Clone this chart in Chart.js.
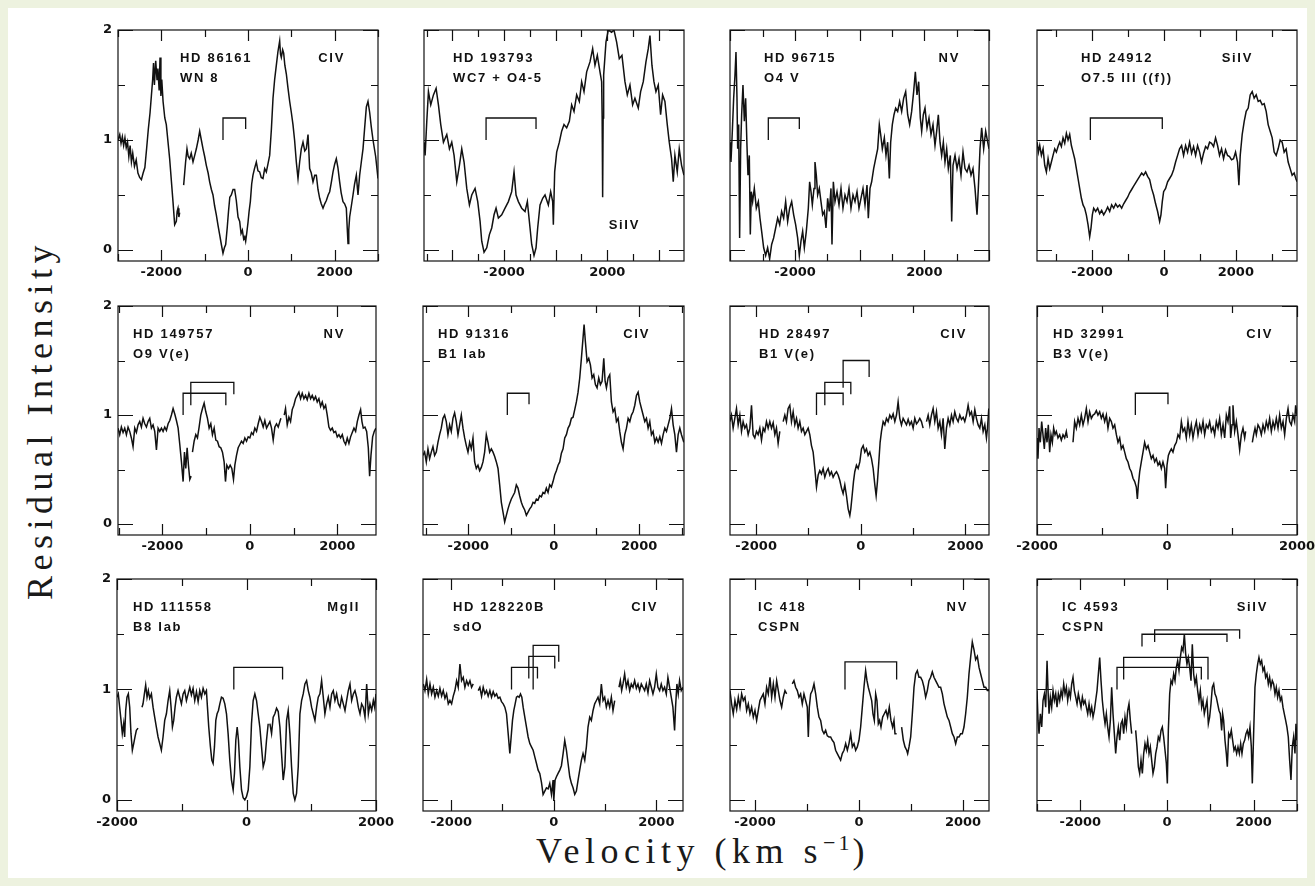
<!DOCTYPE html>
<html>
<head>
<meta charset="utf-8">
<script src="https://cdn.jsdelivr.net/npm/chart.js@4.4.1/dist/chart.umd.min.js"></script>
<style>
  html, body { margin: 0; padding: 0; }
  body { width: 1315px; height: 886px; background: #edf2df; position: relative; overflow: hidden; }
  #sheet { position: absolute; left: 8px; top: 8px; width: 1299px; height: 870px; background: #fff; }
  canvas { position: absolute; }
  #ytitle {
    position: absolute; left: 40px; top: 420px; white-space: nowrap;
    transform: translate(-50%, -50%) rotate(-90deg);
    font: 36px "Liberation Serif", serif; letter-spacing: 5.5px; color: #1a1a1a;
  }
  #xtitle {
    position: absolute; left: 703px; top: 851px; white-space: nowrap;
    transform: translate(-50%, -50%);
    font: 36px "Liberation Serif", serif; letter-spacing: 5.5px; color: #1a1a1a;
  }
  #xtitle sup { font-size: 22px; letter-spacing: 3px; }
</style>
</head>
<body>
<div id="sheet"></div>
<div id="ytitle">Residual Intensity</div>
<div id="xtitle">Velocity (km s<sup>−1</sup>)</div>
<script>
// spectra: [velocity km/s, residual intensity]; null breaks the line
const hd86161 = [[-3000,1.00],[-2960,1.05],[-2930,0.97],[-2900,1.03],[-2870,0.95],[-2840,1.02],[-2810,0.93],[-2780,0.98],[-2750,0.85],[-2720,0.95],[-2690,0.80],[-2660,0.88],[-2620,0.76],[-2580,0.82],[-2540,0.70],[-2500,0.66],[-2460,0.64],[-2420,0.70],[-2380,0.75],[-2340,0.92],[-2300,1.10],[-2260,1.25],[-2230,1.40],[-2200,1.55],[-2180,1.70],[-2160,1.50],[-2130,1.72],[-2100,1.55],[-2080,1.65],[-2050,1.45],[-2030,1.75],[-2010,1.40],[-1990,1.55],[-1960,1.35],[-1920,1.20],[-1885,1.14],[-1808,0.83],[-1731,0.44],[-1692,0.23],[-1654,0.26],[-1635,0.35],[-1615,0.38],[-1595,0.30],[-1577,0.34],[-1560,null],[-1485,0.59],[-1440,0.80],[-1408,0.92],[-1380,0.85],[-1346,0.83],[-1310,0.88],[-1269,0.80],[-1230,0.86],[-1192,0.92],[-1150,1.00],[-1115,1.08],[-1077,1.00],[-1038,0.92],[-1000,0.85],[-962,0.77],[-920,0.70],[-885,0.62],[-845,0.55],[-808,0.50],[-770,0.40],[-731,0.32],[-690,0.22],[-654,0.14],[-615,0.05],[-577,-0.03],[-545,0.02],[-515,0.05],[-480,0.20],[-450,0.35],[-420,0.48],[-385,0.50],[-345,0.55],[-308,0.55],[-270,0.45],[-230,0.30],[-192,0.26],[-160,0.15],[-130,0.18],[-100,0.10],[-75,0.12],[-54,0.08],[-30,0.15],[0,0.25],[25,0.35],[54,0.44],[85,0.60],[115,0.68],[150,0.74],[192,0.80],[230,0.72],[269,0.71],[305,0.66],[346,0.65],[385,0.74],[423,0.71],[460,0.78],[500,0.86],[540,1.10],[577,1.38],[615,1.55],[654,1.68],[690,1.80],[731,1.90],[750,1.78],[769,1.75],[800,1.82],[823,1.79],[850,1.68],[885,1.60],[920,1.48],[962,1.35],[1000,1.25],[1038,1.14],[1075,1.00],[1115,0.80],[1154,0.65],[1192,0.80],[1230,0.92],[1269,0.98],[1310,0.90],[1346,0.92],[1385,1.05],[1423,0.74],[1460,0.70],[1500,0.62],[1540,0.68],[1577,0.68],[1615,0.55],[1654,0.47],[1690,0.42],[1731,0.38],[1770,0.42],[1808,0.45],[1850,0.50],[1885,0.53],[1925,0.62],[1962,0.71],[2000,0.78],[2038,0.83],[2075,0.75],[2115,0.62],[2150,0.52],[2192,0.44],[2230,0.42],[2269,0.38],[2290,0.20],[2308,0.06],[2325,0.18],[2346,0.30],[2385,0.40],[2423,0.50],[2460,0.60],[2500,0.68],[2538,0.50],[2577,0.68],[2615,0.80],[2654,0.92],[2690,1.10],[2731,1.30],[2769,1.35],[2808,1.25],[2845,1.12],[2885,1.00],[2946,0.85],[3000,0.65]];

const hd193793 = [[-5096,0.98],[-5057,0.86],[-4992,1.17],[-4928,1.44],[-4838,1.32],[-4734,1.41],[-4631,1.47],[-4541,1.32],[-4451,1.14],[-4347,0.98],[-4218,1.05],[-4115,0.92],[-4025,0.98],[-3935,0.86],[-3831,0.62],[-3728,0.77],[-3638,0.92],[-3548,0.80],[-3444,0.56],[-3341,0.41],[-3251,0.50],[-3122,0.56],[-3019,0.44],[-2928,0.26],[-2864,0.08],[-2774,-0.02],[-2670,0.02],[-2567,0.14],[-2477,0.20],[-2387,0.32],[-2309,0.38],[-2219,0.29],[-2090,0.32],[-1961,0.38],[-1832,0.44],[-1703,0.53],[-1613,0.71],[-1535,0.50],[-1445,0.44],[-1316,0.38],[-1187,0.35],[-1097,0.44],[-993,0.20],[-929,0.05],[-839,-0.05],[-761,0.02],[-697,0.20],[-606,0.41],[-503,0.47],[-413,0.50],[-284,0.41],[-194,0.53],[-116,0.44],[-90,0.23],[-39,0.71],[39,0.89],[142,0.98],[232,1.08],[323,1.14],[426,1.11],[529,1.17],[619,1.32],[710,1.26],[813,1.41],[916,1.35],[1006,1.53],[1097,1.44],[1200,1.62],[1329,1.71],[1432,1.83],[1522,1.68],[1613,1.77],[1716,1.62],[1780,1.53],[1800,1.20],[1819,0.48],[1838,1.20],[1858,1.59],[1948,1.89],[2038,2.00],[2167,1.98],[2258,2.00],[2361,1.89],[2464,1.74],[2567,1.77],[2683,1.53],[2774,1.41],[2877,1.50],[2980,1.32],[3070,1.38],[3199,1.29],[3290,1.44],[3393,1.53],[3496,1.71],[3586,1.83],[3651,1.95],[3728,1.68],[3806,1.53],[3883,1.44],[3973,1.50],[4064,1.23],[4141,1.41],[4231,1.35],[4322,1.14],[4399,0.98],[4489,0.83],[4554,0.62],[4618,0.86],[4709,0.71],[4786,0.92],[4876,0.77],[4967,0.68]];

const hd96715 = [[-4010,0.98],[-3980,0.80],[-3938,1.08],[-3897,1.38],[-3856,1.59],[-3825,1.80],[-3794,1.38],[-3773,0.92],[-3742,1.14],[-3712,0.11],[-3681,0.92],[-3650,1.23],[-3609,1.50],[-3567,1.17],[-3526,1.38],[-3485,0.95],[-3454,0.68],[-3413,0.86],[-3382,0.14],[-3351,0.53],[-3310,0.44],[-3258,0.56],[-3196,0.38],[-3134,0.44],[-3083,0.29],[-3031,0.17],[-2969,0.02],[-2907,-0.05],[-2846,0.02],[-2784,-0.08],[-2722,0.05],[-2660,0.11],[-2598,0.20],[-2536,0.29],[-2474,0.23],[-2413,0.35],[-2351,0.29],[-2289,0.44],[-2227,0.26],[-2165,0.38],[-2103,0.44],[-2041,0.32],[-1980,0.23],[-1918,0.11],[-1866,-0.05],[-1815,0.08],[-1763,0.17],[-1711,0.02],[-1650,0.17],[-1588,0.38],[-1547,0.62],[-1505,0.53],[-1464,0.41],[-1412,0.56],[-1382,0.80],[-1340,0.68],[-1299,0.50],[-1248,0.56],[-1196,0.44],[-1144,0.32],[-1093,0.35],[-1041,0.20],[-990,0.47],[-938,0.35],[-887,0.56],[-856,0.05],[-814,0.62],[-763,0.44],[-701,0.53],[-639,0.41],[-577,0.56],[-516,0.38],[-454,0.50],[-392,0.44],[-330,0.56],[-268,0.38],[-206,0.50],[-144,0.44],[-82,0.53],[-21,0.38],[41,0.47],[103,0.56],[165,0.41],[227,0.59],[268,0.29],[320,0.56],[371,0.62],[433,0.74],[495,0.83],[557,0.92],[608,1.14],[650,1.05],[701,0.92],[763,1.02],[814,0.86],[866,0.98],[918,0.65],[959,0.98],[1010,1.14],[1062,1.23],[1113,1.29],[1175,1.26],[1237,1.35],[1299,1.26],[1361,1.38],[1423,1.44],[1485,1.23],[1546,1.14],[1608,1.26],[1670,1.44],[1722,1.62],[1773,1.41],[1825,1.53],[1876,1.20],[1918,1.08],[1969,1.23],[2021,1.29],[2083,1.11],[2144,1.20],[2206,1.05],[2268,1.14],[2330,0.95],[2382,1.08],[2433,1.23],[2485,0.98],[2536,0.86],[2588,0.98],[2639,0.80],[2691,0.92],[2742,0.74],[2804,0.86],[2846,0.26],[2887,0.77],[2949,0.86],[3011,0.74],[3072,0.83],[3134,0.68],[3196,0.89],[3258,0.74],[3320,0.71],[3382,0.77],[3444,0.68],[3505,0.74],[3567,0.56],[3629,0.32],[3670,0.56],[3722,0.92],[3773,1.11],[3835,0.92],[3897,1.08],[3959,0.98],[4000,0.92]];

const hd24912 = [[-3528,0.98],[-3491,0.89],[-3454,0.95],[-3408,0.86],[-3361,0.92],[-3315,0.77],[-3269,0.71],[-3222,0.83],[-3176,0.74],[-3130,0.80],[-3084,0.86],[-3037,0.92],[-2991,0.89],[-2945,0.94],[-2898,0.98],[-2852,0.94],[-2806,1.02],[-2759,0.97],[-2713,1.06],[-2667,1.00],[-2621,1.05],[-2574,0.95],[-2528,0.89],[-2482,0.83],[-2435,0.74],[-2389,0.65],[-2343,0.56],[-2296,0.47],[-2250,0.41],[-2204,0.38],[-2158,0.32],[-2111,0.23],[-2065,0.12],[-2028,0.20],[-1991,0.32],[-1954,0.38],[-1898,0.35],[-1843,0.38],[-1787,0.33],[-1732,0.36],[-1676,0.32],[-1621,0.35],[-1565,0.39],[-1509,0.35],[-1454,0.41],[-1398,0.38],[-1343,0.42],[-1287,0.39],[-1232,0.41],[-1176,0.38],[-1120,0.42],[-1065,0.45],[-1009,0.48],[-954,0.52],[-898,0.55],[-843,0.58],[-787,0.61],[-732,0.64],[-676,0.67],[-620,0.70],[-565,0.68],[-509,0.71],[-454,0.67],[-398,0.64],[-343,0.56],[-287,0.50],[-232,0.42],[-176,0.35],[-120,0.26],[-83,0.32],[-46,0.44],[-9,0.53],[46,0.56],[102,0.62],[157,0.65],[213,0.68],[269,0.73],[324,0.80],[380,0.86],[435,0.92],[491,0.95],[546,0.86],[602,0.95],[657,0.89],[713,0.98],[769,0.88],[824,0.94],[880,0.86],[935,0.95],[991,0.89],[1046,0.80],[1102,0.88],[1158,0.94],[1213,0.92],[1269,0.98],[1324,0.97],[1380,0.94],[1435,1.02],[1491,0.95],[1546,0.86],[1602,0.92],[1658,0.83],[1713,0.91],[1769,0.86],[1824,0.85],[1880,0.82],[1935,0.83],[1991,0.89],[2046,0.80],[2084,0.59],[2121,0.86],[2176,1.05],[2232,1.17],[2287,1.26],[2343,1.29],[2398,1.41],[2454,1.44],[2509,1.38],[2565,1.41],[2621,1.35],[2676,1.36],[2732,1.32],[2787,1.33],[2843,1.26],[2898,1.14],[2954,1.08],[3010,1.02],[3065,0.89],[3121,0.86],[3176,0.92],[3232,1.00],[3287,0.98],[3343,0.89],[3398,0.92],[3454,0.80],[3510,0.74],[3565,0.68],[3621,0.70],[3676,0.64],[3704,0.62]];

const hd149757 = [[-3014,0.88],[-2976,0.82],[-2938,0.89],[-2899,0.84],[-2861,0.88],[-2823,0.82],[-2785,0.89],[-2747,0.85],[-2709,0.79],[-2671,0.71],[-2632,0.88],[-2594,0.84],[-2556,0.91],[-2518,0.94],[-2480,0.89],[-2442,0.97],[-2403,0.92],[-2365,0.89],[-2327,0.94],[-2289,0.97],[-2251,0.88],[-2213,0.91],[-2175,0.85],[-2136,0.68],[-2098,0.88],[-2060,0.85],[-2022,0.88],[-1984,0.85],[-1946,0.89],[-1908,0.86],[-1869,0.92],[-1831,0.95],[-1793,1.00],[-1755,1.06],[-1717,1.01],[-1679,0.95],[-1640,0.88],[-1602,0.73],[-1564,0.57],[-1526,0.39],[-1495,0.66],[-1465,0.51],[-1434,0.70],[-1404,0.54],[-1373,0.41],[-1343,0.44],[-1330,null],[-1312,0.66],[-1274,0.76],[-1236,0.82],[-1198,0.79],[-1160,0.89],[-1122,1.00],[-1083,1.06],[-1045,1.11],[-1007,1.03],[-969,0.97],[-931,0.88],[-893,0.92],[-855,0.82],[-816,0.88],[-778,0.77],[-740,0.76],[-702,0.71],[-664,0.70],[-626,0.66],[-588,0.57],[-557,0.39],[-526,0.54],[-488,0.51],[-450,0.54],[-412,0.51],[-374,0.41],[-343,0.54],[-305,0.63],[-267,0.70],[-229,0.73],[-191,0.76],[-153,0.74],[-114,0.79],[-76,0.76],[-38,0.80],[0,0.79],[38,0.84],[76,0.82],[114,0.88],[153,0.85],[191,0.92],[229,0.98],[267,0.94],[305,0.89],[343,0.95],[382,0.88],[420,0.91],[458,0.94],[496,0.88],[534,0.77],[572,0.89],[610,0.92],[649,0.89],[687,0.94],[710,0.97],[740,null],[786,1.00],[816,1.06],[855,0.91],[893,0.98],[931,0.94],[969,1.05],[1007,1.09],[1045,1.15],[1083,1.18],[1122,1.21],[1160,1.15],[1198,1.20],[1236,1.15],[1274,1.18],[1312,1.14],[1351,1.20],[1389,1.15],[1427,1.18],[1465,1.14],[1503,1.17],[1541,1.12],[1579,1.15],[1618,1.08],[1656,1.12],[1694,1.06],[1732,1.09],[1770,1.00],[1808,0.89],[1846,0.86],[1885,0.88],[1923,0.84],[1961,0.85],[1999,0.80],[2037,0.82],[2075,0.79],[2114,0.82],[2152,0.76],[2190,0.73],[2228,0.79],[2266,0.74],[2304,0.80],[2342,0.84],[2381,0.88],[2419,0.85],[2457,0.94],[2495,1.00],[2533,1.05],[2564,0.94],[2594,0.88],[2632,0.89],[2671,0.85],[2709,0.70],[2739,0.44],[2770,0.63],[2808,0.80],[2846,0.85],[2884,0.88]];

const hd91316 = [[-3062,0.63],[-3022,0.66],[-2983,0.57],[-2944,0.69],[-2905,0.60],[-2866,0.66],[-2827,0.71],[-2788,0.63],[-2749,0.66],[-2710,0.75],[-2671,0.82],[-2632,0.88],[-2593,0.97],[-2554,1.00],[-2515,0.94],[-2476,0.82],[-2437,0.91],[-2398,0.85],[-2359,0.97],[-2320,1.02],[-2281,0.94],[-2241,0.82],[-2202,0.91],[-2163,1.00],[-2124,0.88],[-2085,0.79],[-2046,0.72],[-2007,0.66],[-1968,0.75],[-1929,0.69],[-1890,0.79],[-1851,0.57],[-1812,0.51],[-1773,0.54],[-1734,0.49],[-1695,0.52],[-1656,0.57],[-1617,0.66],[-1578,0.82],[-1539,0.75],[-1500,0.66],[-1460,0.69],[-1421,0.66],[-1382,0.62],[-1343,0.57],[-1304,0.51],[-1265,0.36],[-1226,0.20],[-1187,0.11],[-1148,0.02],[-1109,0.08],[-1070,0.14],[-1031,0.19],[-992,0.23],[-953,0.26],[-914,0.29],[-875,0.36],[-836,0.33],[-797,0.26],[-758,0.20],[-719,0.16],[-679,0.13],[-640,0.08],[-601,0.11],[-562,0.14],[-523,0.16],[-484,0.20],[-445,0.19],[-406,0.23],[-367,0.22],[-328,0.26],[-289,0.25],[-250,0.29],[-211,0.28],[-172,0.33],[-133,0.29],[-94,0.36],[-55,0.34],[-16,0.39],[23,0.45],[62,0.49],[102,0.54],[141,0.57],[180,0.65],[219,0.69],[258,0.79],[297,0.82],[336,0.88],[375,0.91],[414,0.97],[453,0.98],[492,1.05],[531,1.12],[570,1.21],[609,1.34],[648,1.52],[687,1.71],[711,1.83],[742,1.67],[781,1.49],[820,1.52],[859,1.46],[898,1.34],[937,1.37],[976,1.28],[1015,1.25],[1054,1.34],[1093,1.28],[1132,1.31],[1172,1.52],[1203,1.31],[1234,1.25],[1273,1.34],[1312,1.37],[1351,1.12],[1390,1.03],[1429,1.06],[1468,0.94],[1507,0.97],[1546,0.85],[1585,0.75],[1624,0.69],[1664,0.82],[1703,0.88],[1742,0.97],[1781,0.94],[1820,1.00],[1859,1.03],[1898,1.09],[1937,1.18],[1976,1.21],[2015,1.12],[2054,1.06],[2093,1.00],[2132,0.94],[2171,0.97],[2210,0.88],[2249,0.94],[2288,0.82],[2327,0.85],[2367,0.75],[2406,0.79],[2445,0.75],[2484,0.80],[2523,0.74],[2562,0.82],[2601,0.88],[2640,0.85],[2679,0.91],[2718,0.97],[2757,1.06],[2796,0.91],[2835,0.82],[2874,0.66],[2913,0.82],[2952,0.88],[2991,0.82],[3046,0.75]];

const hd28497 = [[-2503,0.94],[-2472,1.00],[-2440,0.88],[-2408,0.97],[-2376,1.06],[-2344,0.91],[-2312,1.00],[-2280,0.85],[-2249,0.94],[-2217,0.88],[-2185,0.91],[-2153,0.82],[-2121,0.88],[-2089,1.09],[-2058,0.82],[-2026,0.79],[-1994,0.85],[-1962,0.82],[-1930,0.88],[-1898,0.77],[-1866,0.88],[-1835,0.85],[-1803,0.94],[-1771,0.88],[-1739,0.94],[-1707,0.88],[-1675,0.93],[-1643,0.82],[-1612,0.88],[-1580,0.74],[-1548,0.85],[-1520,null],[-1484,0.94],[-1452,1.00],[-1421,0.94],[-1389,1.06],[-1357,1.09],[-1325,0.94],[-1293,1.03],[-1261,0.91],[-1229,0.97],[-1198,0.88],[-1166,0.94],[-1134,0.85],[-1102,0.88],[-1070,0.82],[-1038,0.85],[-1006,0.88],[-975,0.82],[-943,0.72],[-911,0.66],[-879,0.51],[-847,0.34],[-815,0.45],[-784,0.49],[-752,0.46],[-720,0.51],[-688,0.43],[-656,0.48],[-624,0.51],[-592,0.45],[-561,0.48],[-529,0.43],[-497,0.46],[-465,0.48],[-433,0.45],[-401,0.40],[-369,0.33],[-338,0.28],[-306,0.36],[-274,0.26],[-242,0.14],[-210,0.08],[-191,0.14],[-166,0.26],[-140,0.39],[-115,0.48],[-83,0.54],[-51,0.51],[-19,0.57],[13,0.69],[45,0.72],[76,0.66],[108,0.69],[140,0.63],[172,0.66],[204,0.60],[236,0.51],[268,0.36],[293,0.26],[318,0.39],[344,0.57],[369,0.75],[395,0.85],[427,0.94],[459,0.91],[490,0.97],[522,0.94],[554,1.00],[586,0.97],[618,1.01],[650,0.94],[682,1.00],[713,1.12],[745,0.97],[777,0.91],[809,0.97],[841,0.94],[873,0.91],[905,0.96],[936,0.91],[968,0.94],[1000,0.88],[1032,0.97],[1064,0.92],[1096,0.94],[1127,0.97],[1159,0.94],[1191,0.88],[1220,null],[1255,0.94],[1287,1.00],[1318,0.91],[1350,1.00],[1382,1.06],[1414,0.94],[1446,1.03],[1478,0.88],[1510,0.94],[1541,0.82],[1573,0.97],[1605,0.69],[1637,0.88],[1669,0.97],[1701,0.91],[1733,1.00],[1764,0.94],[1796,1.03],[1828,0.97],[1860,0.94],[1892,1.00],[1924,0.96],[1956,0.98],[1987,0.94],[2019,1.00],[2051,1.09],[2083,1.00],[2115,1.03],[2147,0.94],[2179,1.05],[2210,0.97],[2242,0.91],[2274,0.88],[2306,0.97],[2338,0.85],[2370,0.91],[2401,0.79],[2421,0.88],[2446,1.06]];

const hd32991 = [[-2000,0.79],[-1985,0.60],[-1969,0.88],[-1949,0.75],[-1928,0.94],[-1908,0.82],[-1887,0.69],[-1867,0.88],[-1846,0.75],[-1826,0.91],[-1805,0.66],[-1785,0.82],[-1764,0.75],[-1744,0.88],[-1723,0.82],[-1703,0.85],[-1677,0.79],[-1651,0.82],[-1626,0.77],[-1600,0.82],[-1574,0.79],[-1549,0.85],[-1533,0.79],[-1500,null],[-1446,0.75],[-1421,0.94],[-1395,0.88],[-1369,0.97],[-1344,0.91],[-1318,1.00],[-1292,0.91],[-1267,0.97],[-1241,1.06],[-1215,0.94],[-1190,1.03],[-1164,0.97],[-1138,1.00],[-1113,1.01],[-1087,1.04],[-1062,1.00],[-1036,1.03],[-1010,0.97],[-985,1.01],[-959,0.94],[-933,1.00],[-908,0.88],[-882,0.97],[-856,0.94],[-831,0.88],[-805,0.91],[-779,0.82],[-754,0.75],[-728,0.79],[-703,0.69],[-677,0.72],[-651,0.66],[-626,0.60],[-600,0.57],[-574,0.51],[-549,0.48],[-523,0.42],[-497,0.39],[-472,0.34],[-456,0.23],[-441,0.36],[-420,0.48],[-395,0.57],[-369,0.66],[-344,0.75],[-318,0.69],[-292,0.72],[-267,0.66],[-241,0.60],[-215,0.63],[-190,0.57],[-164,0.60],[-138,0.54],[-113,0.57],[-87,0.51],[-62,0.57],[-36,0.51],[-21,0.33],[0,0.54],[21,0.63],[41,0.66],[67,0.69],[92,0.66],[118,0.72],[144,0.75],[169,0.82],[195,0.79],[221,0.94],[246,0.85],[272,0.88],[297,0.79],[323,0.94],[349,0.82],[374,0.91],[400,0.79],[426,0.88],[451,0.94],[477,0.82],[503,0.91],[528,0.85],[554,0.94],[579,0.82],[605,0.91],[631,0.88],[656,0.94],[682,0.85],[708,0.89],[733,0.82],[759,0.94],[785,0.88],[810,0.97],[836,0.82],[862,0.91],[887,0.79],[913,1.00],[938,0.94],[964,1.08],[979,0.79],[1000,0.91],[1015,1.09],[1041,0.85],[1067,0.94],[1092,0.82],[1118,0.68],[1144,0.82],[1169,0.88],[1195,0.79],[1210,0.85],[1260,null],[1313,0.75],[1333,0.82],[1354,0.88],[1374,0.82],[1400,0.91],[1426,0.88],[1451,0.82],[1477,0.91],[1503,0.85],[1528,0.94],[1554,0.88],[1579,0.97],[1605,0.85],[1631,0.94],[1656,0.88],[1682,0.97],[1708,0.88],[1733,1.00],[1759,0.88],[1785,0.94],[1810,0.82],[1836,0.97],[1862,1.06],[1887,0.94],[1913,0.91],[1938,1.00],[1964,0.94],[1979,1.09],[2000,1.00]];

const hd111558 = [[-2000,0.93],[-1980,0.96],[-1959,0.84],[-1938,0.72],[-1918,0.60],[-1897,0.69],[-1882,0.57],[-1866,0.81],[-1846,0.93],[-1825,0.96],[-1804,0.84],[-1784,0.60],[-1763,0.45],[-1742,0.51],[-1722,0.57],[-1701,0.63],[-1675,0.65],[-1650,null],[-1614,0.84],[-1598,0.87],[-1577,0.96],[-1557,1.04],[-1536,0.93],[-1516,0.99],[-1495,0.92],[-1469,0.96],[-1443,0.84],[-1418,0.75],[-1392,0.66],[-1366,0.57],[-1340,0.51],[-1315,0.45],[-1289,0.57],[-1263,0.72],[-1237,0.78],[-1211,0.90],[-1186,0.99],[-1165,0.84],[-1144,0.66],[-1124,0.72],[-1103,0.84],[-1083,0.93],[-1057,0.99],[-1031,0.93],[-1005,0.87],[-979,0.96],[-954,0.99],[-928,0.90],[-902,0.96],[-876,1.02],[-851,0.95],[-825,1.01],[-799,0.90],[-773,0.98],[-747,0.89],[-722,0.99],[-696,0.93],[-670,1.01],[-644,0.96],[-619,0.99],[-603,0.84],[-583,0.66],[-557,0.48],[-536,0.36],[-516,0.33],[-495,0.48],[-474,0.72],[-454,0.78],[-433,0.81],[-412,0.87],[-387,0.93],[-361,0.92],[-335,0.87],[-309,0.78],[-284,0.60],[-258,0.36],[-232,0.18],[-206,0.09],[-186,0.24],[-165,0.54],[-144,0.66],[-124,0.54],[-103,0.30],[-77,0.09],[-52,0.02],[-26,0.00],[0,0.03],[26,0.09],[52,0.30],[77,0.69],[103,0.90],[129,0.96],[155,0.90],[180,0.78],[206,0.66],[232,0.48],[258,0.30],[284,0.36],[309,0.54],[335,0.69],[350,null],[361,0.69],[387,0.60],[412,0.75],[438,0.78],[464,0.83],[490,0.80],[516,0.66],[541,0.42],[567,0.18],[593,0.30],[619,0.72],[644,0.81],[670,0.60],[696,0.30],[722,0.06],[747,0.00],[773,0.06],[799,0.30],[825,0.78],[851,0.90],[876,0.96],[902,1.05],[928,1.08],[954,0.99],[979,0.93],[1005,0.84],[1031,0.78],[1057,0.72],[1083,0.84],[1108,0.93],[1134,0.96],[1160,1.08],[1186,0.93],[1211,0.78],[1237,0.87],[1263,0.93],[1289,0.84],[1315,0.96],[1340,0.99],[1366,0.90],[1392,0.96],[1418,0.87],[1443,0.84],[1469,0.93],[1495,0.87],[1521,0.81],[1546,0.90],[1572,0.99],[1598,1.05],[1624,0.90],[1650,0.96],[1675,0.99],[1701,0.93],[1727,0.84],[1753,0.78],[1778,0.87],[1804,0.84],[1830,0.75],[1856,1.05],[1882,0.78],[1907,0.87],[1933,0.81],[1959,0.90],[1979,0.84],[2000,0.96]];

const hd128220b = [[-2544,1.05],[-2512,0.99],[-2479,1.09],[-2447,0.96],[-2414,1.05],[-2382,0.96],[-2349,1.02],[-2317,0.93],[-2284,0.99],[-2252,0.94],[-2220,1.01],[-2187,0.94],[-2155,0.99],[-2122,0.92],[-2090,0.96],[-2057,0.87],[-2025,0.90],[-1992,0.87],[-1960,0.94],[-1928,0.99],[-1895,1.08],[-1863,1.02],[-1830,1.23],[-1798,1.08],[-1765,1.11],[-1733,1.02],[-1700,1.08],[-1668,1.04],[-1635,1.08],[-1603,1.02],[-1571,1.05],[-1520,null],[-1473,0.99],[-1441,1.02],[-1408,0.94],[-1376,1.02],[-1343,0.96],[-1311,0.99],[-1279,0.94],[-1246,0.99],[-1214,0.93],[-1181,0.98],[-1149,0.94],[-1116,0.96],[-1084,0.92],[-1051,0.93],[-1019,0.89],[-986,0.87],[-954,0.84],[-922,0.78],[-889,0.60],[-857,0.42],[-831,0.57],[-805,0.72],[-779,0.81],[-753,0.87],[-727,0.93],[-701,0.94],[-675,0.93],[-649,0.96],[-623,0.93],[-597,0.84],[-565,0.75],[-532,0.66],[-500,0.57],[-467,0.51],[-435,0.48],[-402,0.45],[-370,0.39],[-337,0.33],[-305,0.27],[-273,0.24],[-240,0.16],[-208,0.05],[-175,0.08],[-143,0.11],[-110,0.10],[-78,0.15],[-45,0.05],[-13,0.18],[0,-0.01],[26,0.18],[52,0.21],[84,0.24],[117,0.27],[149,0.31],[182,0.42],[214,0.54],[247,0.45],[279,0.33],[312,0.21],[344,0.15],[376,0.11],[409,0.05],[441,0.08],[474,0.18],[506,0.27],[539,0.36],[571,0.42],[604,0.36],[636,0.48],[668,0.66],[701,0.75],[733,0.72],[766,0.81],[798,0.87],[831,0.90],[863,0.93],[896,0.87],[928,1.05],[961,0.90],[993,0.93],[1025,0.84],[1058,0.90],[1090,0.84],[1123,0.93],[1155,0.81],[1188,0.90],[1230,null],[1272,1.02],[1298,1.08],[1324,0.99],[1350,1.05],[1382,1.14],[1415,1.02],[1447,1.08],[1480,0.99],[1512,1.05],[1545,1.02],[1577,1.08],[1610,1.01],[1642,1.05],[1674,0.99],[1707,1.05],[1739,1.02],[1772,0.99],[1804,1.05],[1837,0.97],[1869,1.08],[1902,1.02],[1934,0.96],[1966,1.02],[1999,1.14],[2031,1.02],[2064,0.99],[2096,1.05],[2129,0.99],[2161,1.02],[2194,0.96],[2226,1.11],[2259,1.02],[2291,0.93],[2323,0.84],[2356,0.63],[2375,0.84],[2401,1.05],[2427,0.96],[2453,1.08],[2486,0.99],[2518,1.02]];

const ic418 = [[-2481,0.99],[-2449,0.87],[-2417,0.78],[-2385,0.90],[-2352,0.82],[-2320,0.93],[-2288,0.84],[-2256,0.96],[-2224,0.90],[-2192,0.93],[-2160,0.81],[-2128,0.87],[-2096,0.78],[-2064,0.84],[-2032,0.75],[-2000,0.81],[-1968,0.72],[-1936,0.81],[-1904,0.90],[-1872,0.93],[-1840,0.96],[-1808,0.87],[-1776,1.02],[-1744,0.96],[-1711,1.11],[-1679,0.93],[-1647,1.05],[-1615,0.93],[-1583,1.08],[-1551,0.99],[-1519,0.90],[-1487,0.84],[-1455,0.93],[-1423,0.99],[-1391,0.96],[-1340,null],[-1282,1.05],[-1250,1.08],[-1218,1.02],[-1186,0.99],[-1154,0.93],[-1122,0.96],[-1090,0.87],[-1058,0.96],[-1026,0.90],[-994,0.84],[-974,0.57],[-955,0.84],[-929,0.96],[-897,0.99],[-865,1.05],[-833,0.96],[-801,0.84],[-769,0.75],[-737,0.72],[-705,0.63],[-673,0.60],[-641,0.63],[-609,0.58],[-577,0.57],[-545,0.57],[-513,0.54],[-481,0.52],[-449,0.45],[-417,0.42],[-385,0.39],[-353,0.36],[-321,0.42],[-288,0.45],[-256,0.51],[-224,0.45],[-192,0.51],[-160,0.60],[-128,0.48],[-96,0.51],[-64,0.45],[-32,0.48],[0,0.54],[32,0.66],[64,0.84],[96,1.02],[128,1.17],[154,1.08],[179,1.02],[212,0.96],[244,0.90],[269,0.78],[295,0.72],[321,0.96],[346,0.90],[372,0.69],[397,0.72],[423,0.66],[455,0.75],[487,0.78],[519,0.81],[551,0.75],[583,0.84],[615,0.72],[647,0.66],[673,0.72],[692,0.60],[724,0.60],[770,null],[820,0.66],[853,0.54],[885,0.48],[917,0.45],[936,0.42],[962,0.48],[994,0.57],[1026,0.78],[1058,1.02],[1090,1.14],[1122,1.17],[1154,1.11],[1186,1.11],[1218,1.08],[1250,1.02],[1282,0.93],[1314,0.99],[1346,1.08],[1378,1.11],[1410,1.16],[1442,1.11],[1474,1.08],[1506,1.05],[1538,1.02],[1570,1.02],[1603,0.96],[1635,0.87],[1667,0.81],[1699,0.75],[1731,0.72],[1763,0.66],[1795,0.60],[1827,0.57],[1859,0.51],[1891,0.57],[1923,0.57],[1955,0.60],[1987,0.60],[2019,0.66],[2051,0.78],[2083,0.93],[2115,1.14],[2147,1.29],[2179,1.43],[2211,1.36],[2243,1.27],[2276,1.30],[2308,1.20],[2340,1.14],[2372,1.08],[2404,1.02],[2436,1.02],[2468,0.99],[2500,0.99]];

const ic4593 = [[-3000,0.99],[-2976,0.72],[-2953,0.60],[-2922,0.78],[-2891,0.66],[-2861,0.90],[-2830,0.96],[-2799,0.84],[-2768,1.26],[-2745,0.99],[-2722,0.78],[-2692,0.93],[-2661,0.84],[-2630,0.99],[-2599,0.90],[-2568,0.96],[-2538,0.84],[-2507,0.96],[-2476,0.90],[-2445,0.99],[-2415,0.93],[-2384,1.05],[-2353,0.96],[-2322,1.02],[-2292,0.90],[-2261,0.99],[-2230,0.93],[-2199,1.05],[-2169,1.11],[-2138,0.99],[-2107,0.93],[-2076,0.87],[-2046,0.96],[-2015,0.90],[-1984,0.84],[-1953,0.93],[-1923,0.87],[-1892,0.90],[-1861,0.84],[-1830,0.78],[-1799,0.87],[-1769,0.78],[-1738,0.84],[-1707,0.75],[-1676,0.81],[-1646,0.90],[-1615,0.99],[-1584,1.14],[-1553,1.29],[-1523,1.08],[-1492,0.90],[-1461,0.78],[-1430,0.69],[-1400,0.78],[-1369,0.66],[-1338,0.57],[-1307,0.72],[-1277,1.02],[-1246,0.78],[-1215,0.60],[-1184,0.42],[-1154,0.57],[-1123,0.66],[-1092,0.54],[-1061,0.69],[-1030,0.72],[-1000,0.60],[-969,0.75],[-938,0.66],[-907,0.81],[-877,0.87],[-846,0.72],[-815,0.60],[-770,null],[-723,0.63],[-692,0.48],[-661,0.30],[-631,0.24],[-600,0.36],[-569,0.24],[-538,0.42],[-508,0.51],[-477,0.45],[-446,0.54],[-415,0.42],[-385,0.48],[-354,0.36],[-323,0.24],[-292,0.30],[-261,0.42],[-231,0.48],[-200,0.57],[-169,0.54],[-138,0.63],[-108,0.66],[-77,0.57],[-46,0.45],[-15,0.33],[8,0.15],[31,0.63],[62,0.96],[92,1.08],[123,1.05],[154,1.14],[185,1.08],[215,1.20],[246,1.26],[277,1.17],[308,1.29],[338,1.38],[369,1.35],[400,1.50],[431,1.32],[461,1.23],[492,1.29],[523,1.20],[554,1.08],[584,1.41],[615,1.14],[646,1.05],[677,1.11],[707,0.99],[738,0.90],[769,0.99],[800,0.84],[830,0.90],[861,0.78],[892,0.84],[923,0.90],[954,0.69],[984,0.75],[1015,0.87],[1046,1.02],[1077,1.05],[1107,0.96],[1138,0.93],[1169,0.87],[1200,0.81],[1230,0.78],[1261,0.63],[1284,0.78],[1307,0.72],[1338,0.54],[1369,0.42],[1392,0.30],[1423,0.60],[1453,0.57],[1484,0.63],[1515,0.54],[1546,0.45],[1576,0.48],[1607,0.42],[1638,0.48],[1669,0.42],[1700,0.51],[1730,0.42],[1761,0.51],[1792,0.54],[1823,0.60],[1853,0.63],[1884,0.57],[1915,0.66],[1946,0.48],[1969,0.15],[1999,0.60],[2030,1.02],[2061,1.14],[2092,1.23],[2122,1.29],[2153,1.23],[2184,1.26],[2215,1.17],[2245,1.20],[2276,1.11],[2307,1.14],[2338,1.05],[2368,1.11],[2399,1.02],[2430,1.08],[2461,1.05],[2492,0.96],[2522,1.02],[2553,0.93],[2584,0.99],[2615,0.90],[2645,0.93],[2676,0.84],[2707,0.78],[2738,0.72],[2768,0.66],[2799,0.57],[2830,0.36],[2861,0.18],[2891,0.48],[2922,0.57],[2953,0.42],[2976,0.69],[3000,0.54]];

// velocity brackets: [v start, v end, bar level, left foot, right foot]
const brHd86161 = [[-577, -54, 1.2, 1.0, 1.1]];
const brHd193793 = [[-2696, -761, 1.2, 1.0, 1.1]];
const brHd96715 = [[-2825, -1866, 1.2, 1.0, 1.1]];
const brHd24912 = [[-2046, -46, 1.2, 1.0, 1.1]];
const brHd149757 = [[-1350, -366, 1.3, 1.09, 1.19], [-1526, -549, 1.2, 1.0, 1.09]];
const brHd91316 = [[-1086, -578, 1.2, 1.0, 1.1]];
const brHd28497 = [[-338, 159, 1.5, 1.25, 1.35], [-688, -191, 1.3, 1.09, 1.19], [-847, -338, 1.2, 1.0, 1.09]];
const brHd32991 = [[-487, 15, 1.2, 1.0, 1.1]];
const brHd111558 = [[-196, 557, 1.2, 1.0, 1.09]];
const brHd128220b = [[-402, 97, 1.4, 1.0, 1.25], [-487, 19, 1.3, 1.1, 1.19], [-824, -318, 1.2, 1.0, 1.1]];
const brIc418 = [[-269, 724, 1.25, 1.0, 1.09]];
const brIc4593 = [[-285, 1676, 1.54, 1.43, 1.46], [-577, 1384, 1.5, 1.39, 1.43], [-1000, 946, 1.29, 1.09, 1.09], [-1154, 792, 1.2, 1.0, 1.09]];

// axis ranges and tick labels
const velRanges = [[-3000, 3000], [-5100, 4970], [-4010, 4000], [-3530, 3700],
                   [-3015, 2885], [-3060, 3050], [-2500, 2450], [-2000, 2000],
                   [-2000, 2000], [-2550, 2520], [-2480, 2500], [-3000, 3000]];
const velTickLabels = [[-2000, 0, 2000], [-2000, 2000], [-2000, 2000], [-2000, 0, 2000],
                       [-2000, 0, 2000], [-2000, 0, 2000], [-2000, 0, 2000], [-2000, 0, 2000],
                       [-2000, 0, 2000], [-2000, 0, 2000], [-2000, 0, 2000], [-2000, 0, 2000]];
const intensityTickLabels = [0, 1, 2];

const stars = ['HD 86161', 'HD 193793', 'HD 96715', 'HD 24912', 'HD 149757', 'HD 91316',
               'HD 28497', 'HD 32991', 'HD 111558', 'HD 128220B', 'IC 418', 'IC 4593'];
const spTypes = ['WN 8', 'WC7 + O4-5', 'O4 V', 'O7.5 III ((f))', 'O9 V(e)', 'B1 Iab',
                 'B1 V(e)', 'B3 V(e)', 'B8 Iab', 'sdO', 'CSPN', 'CSPN'];
const ions = ['CIV', 'SiIV', 'NV', 'SiIV', 'NV', 'CIV', 'CIV', 'CIV', 'MgII', 'CIV', 'NV', 'SiIV'];

const spectra = [hd86161, hd193793, hd96715, hd24912, hd149757, hd91316,
                 hd28497, hd32991, hd111558, hd128220b, ic418, ic4593];
const brackets = [brHd86161, brHd193793, brHd96715, brHd24912, brHd149757, brHd91316,
                  brHd28497, brHd32991, brHd111558, brHd128220b, brIc418, brIc4593];

// page layout of each plot frame: left, top, width, height
const frames = [
  [118, 30, 260, 231], [424, 30, 260, 231], [730, 30, 259, 231], [1037, 30, 260, 231],
  [118, 306, 258, 229], [423, 306, 261, 229], [730, 306, 259, 229], [1037, 306, 260, 229],
  [117, 579, 259, 232], [423, 579, 260, 232], [730, 579, 259, 232], [1037, 579, 260, 232]
];
// text placement inside the frame: star name left inset, ion right inset, ion y (null = first line)
const textPlace = [
  [62, 33, null], [29, 44, 195], [34, 29, null], [44, 44, null],
  [15, 31, null], [15, 34, null], [29, 22, null], [16, 24, null],
  [16, 16, null], [30, 25, null], [28, 21, null], [25, 29, null]
];

const INK = '#111';
const PAD_L = 40, PAD_R = 32, PAD_T = 14, PAD_B = 30;

function bracketPoints(list) {
  const pts = [];
  list.forEach(([v1, v2, bar, foot1, foot2]) => {
    pts.push([v1, foot1], [v1, bar], [v2, bar], [v2, foot2], [v2, null]);
  });
  return pts;
}

// box with inward ticks on all four sides, plus the in-panel labels
const framePlugin = {
  id: 'frame',
  afterDraw(chart, args, opts) {
    const { ctx, chartArea: a, scales: { x, y } } = chart;
    ctx.save();
    ctx.strokeStyle = INK;
    ctx.lineWidth = 1.2;
    ctx.strokeRect(a.left, a.top, a.right - a.left, a.bottom - a.top);
    ctx.beginPath();
    for (let v = Math.ceil(x.min / 1000) * 1000; v <= x.max; v += 1000) {
      const px = Math.round(x.getPixelForValue(v)) + 0.5;
      const len = v % 2000 === 0 ? 11 : 7;
      ctx.moveTo(px, a.bottom); ctx.lineTo(px, a.bottom - len);
      ctx.moveTo(px, a.top); ctx.lineTo(px, a.top + len);
    }
    for (let v = 0; v <= 2; v += 0.5) {
      const py = Math.round(y.getPixelForValue(v)) + 0.5;
      const len = v % 1 === 0 ? 15 : 7;
      ctx.moveTo(a.left, py); ctx.lineTo(a.left + len, py);
      ctx.moveTo(a.right, py); ctx.lineTo(a.right - len, py);
    }
    ctx.stroke();

    ctx.fillStyle = INK;
    ctx.font = 'bold 13px "Liberation Sans", Arial, sans-serif';
    ctx.letterSpacing = '1.7px';
    ctx.textBaseline = 'middle';
    ctx.textAlign = 'left';
    ctx.fillText(opts.star, a.left + opts.nameX, a.top + 28);
    ctx.fillText(opts.type, a.left + opts.nameX, a.top + 48);
    ctx.textAlign = 'right';
    ctx.fillText(opts.ion, a.right - opts.ionX, a.top + (opts.ionY == null ? 28 : opts.ionY));
    ctx.restore();
  }
};

const tickFont = { family: 'DejaVu Sans', size: 13, weight: 'bold' };

spectra.forEach((spec, i) => {
  const [left, top, w, h] = frames[i];
  const canvas = document.createElement('canvas');
  canvas.width = w + PAD_L + PAD_R;
  canvas.height = h + PAD_T + PAD_B;
  canvas.style.left = (left - PAD_L) + 'px';
  canvas.style.top = (top - PAD_T) + 'px';
  document.body.appendChild(canvas);

  const firstCol = i % 4 === 0;
  const [nameX, ionX, ionY] = textPlace[i];

  new Chart(canvas, {
    type: 'line',
    data: {
      datasets: [
        { data: spec, borderColor: INK, borderWidth: 1.5, pointRadius: 0, tension: 0, spanGaps: false },
        { data: bracketPoints(brackets[i]), borderColor: INK, borderWidth: 1.3, pointRadius: 0, spanGaps: false }
      ]
    },
    options: {
      responsive: false,
      animation: false,
      events: [],
      layout: { padding: { top: PAD_T, right: PAD_R, left: 0, bottom: 0 } },
      plugins: {
        legend: { display: false },
        tooltip: { enabled: false },
        frame: { star: stars[i], type: spTypes[i], ion: ions[i], nameX, ionX, ionY }
      },
      scales: {
        x: {
          type: 'linear',
          min: velRanges[i][0],
          max: velRanges[i][1],
          grid: { display: false, drawTicks: false },
          border: { display: false },
          afterBuildTicks: s => { s.ticks = velTickLabels[i].map(v => ({ value: v })); },
          afterFit: s => { s.height = PAD_B; },
          ticks: { autoSkip: false, maxRotation: 0, padding: 4, font: tickFont, color: INK,
                   callback: v => String(v) }
        },
        y: {
          type: 'linear',
          min: -0.1,
          max: 2,
          grid: { display: false, drawTicks: false },
          border: { display: false },
          afterBuildTicks: s => { s.ticks = intensityTickLabels.map(v => ({ value: v })); },
          afterFit: s => { s.width = PAD_L; },
          ticks: { display: firstCol, padding: 6, font: tickFont, color: INK,
                   callback: v => String(v) }
        }
      }
    },
    plugins: [framePlugin]
  });
});
</script>
</body>
</html>
